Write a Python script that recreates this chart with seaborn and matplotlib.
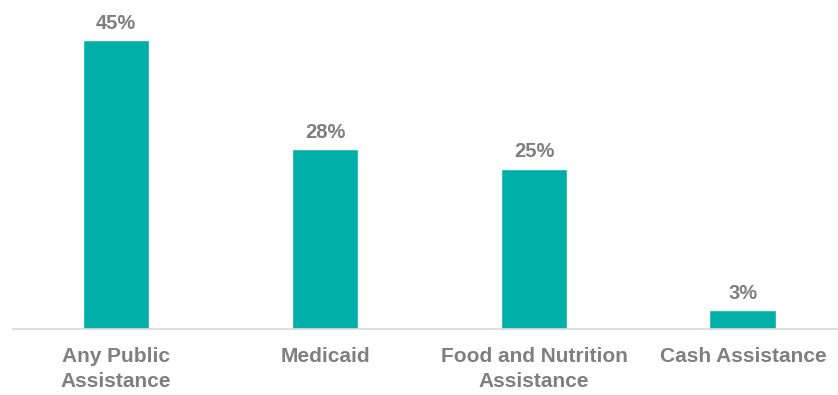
import matplotlib
matplotlib.use("Agg")
import matplotlib.pyplot as plt
import seaborn as sns
import pandas as pd

categories = ["Any Public\nAssistance", "Medicaid", "Food and Nutrition\nAssistance", "Cash Assistance"]
values = [45, 28, 25, 3]
value_labels = ["45%", "28%", "25%", "3%"]

sns.set_theme(style="white")
plt.rcParams["font.family"] = ["Liberation Sans", "DejaVu Sans"]

df = pd.DataFrame({"category": categories, "value": values})

fig = plt.figure(figsize=(8.38, 3.95), dpi=100)
ax = fig.add_axes([13 / 838, (395 - 329) / 395, (838 - 13) / 838, 321 / 395])

sns.barplot(data=df, x="category", y="value", color="#00B0A8", saturation=1,
            width=0.32, ax=ax)

for i, (v, lab) in enumerate(zip(values, value_labels)):
    ax.text(i, v + 1.1, lab, ha="center", va="bottom", fontsize=14.5,
            fontweight="bold", color="#7F7F7F")

ax.set_xlim(-0.493, 3.455)
ax.set_ylim(0, 50)
ax.set_xlabel("")
ax.set_ylabel("")
ax.set_yticks([])
for side in ["top", "right", "left"]:
    ax.spines[side].set_visible(False)
ax.spines["bottom"].set_color("#D9D9D9")
ax.spines["bottom"].set_linewidth(1.2)
ax.tick_params(axis="x", length=0, pad=13, labelsize=15, labelcolor="#7F7F7F")
for t in ax.get_xticklabels():
    t.set_fontweight("bold")
    t.set_linespacing(1.38)

fig.savefig("out.png", dpi=100, facecolor="white")
